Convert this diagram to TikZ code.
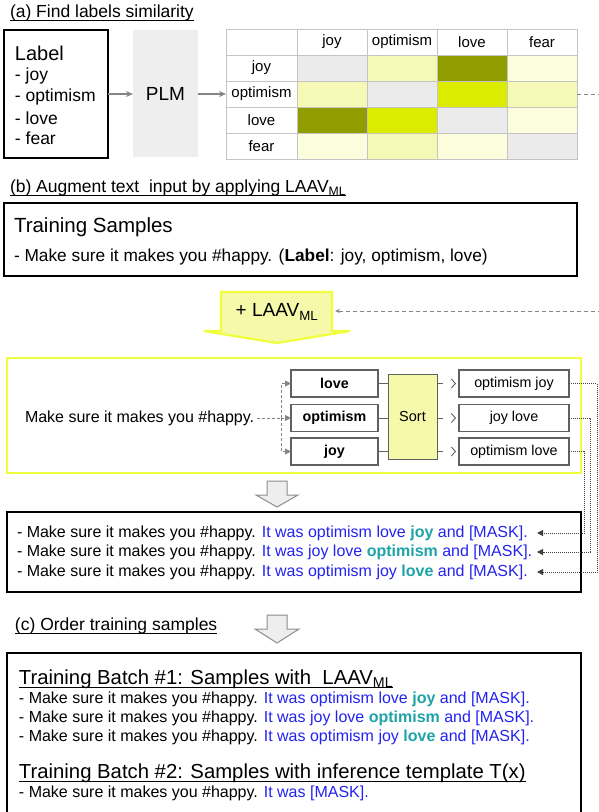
\documentclass[tikz,border=0pt]{standalone}
\usepackage{fontspec}
\setmainfont{Liberation Sans}
\usetikzlibrary{arrows.meta}

\definecolor{plmgray}{HTML}{EEEEEE}
\definecolor{gridgray}{HTML}{C4C4C4}
\definecolor{simhigh}{HTML}{909C00}
\definecolor{simmid}{HTML}{DCEC00}
\definecolor{simlow}{HTML}{F6F9B6}
\definecolor{simmin}{HTML}{FCFDDC}
\definecolor{simself}{HTML}{EBEBEB}
\definecolor{hiyellow}{HTML}{F0FF3C}
\definecolor{paleyellow}{HTML}{F6F9AA}
\definecolor{tmplblue}{HTML}{2323F0}
\definecolor{labteal}{HTML}{1FA3A8}
\definecolor{linkgray}{HTML}{858585}
\definecolor{boxgray}{HTML}{606060}
\definecolor{arrowgray}{HTML}{8C8C8C}

\newcommand{\setfs}[1]{\fontsize{#1}{#1}\selectfont}
\newcommand{\tmpl}[1]{\textcolor{tmplblue}{#1}}
\newcommand{\keylab}[1]{\textcolor{labteal}{\textbf{#1}}}

\begin{document}
\begin{tikzpicture}[x=1pt,y=-1pt,
  every node/.style={inner sep=0pt, outer sep=0pt},
  title/.style={anchor=west, font=\setfs{17.5}},
  batchtitle/.style={anchor=west, font=\setfs{20.3}},
  txt/.style={anchor=west, font=\setfs{16}},
  smalltxt/.style={anchor=west, font=\setfs{16}},
  frame/.style={draw=black, line width=1.2pt},
  cell/.style={draw=gridgray, line width=1pt, minimum width=70pt, minimum height=26pt, font=\setfs{15}},
  flow/.style={draw=linkgray, line width=1.2pt, -{Stealth[length=7pt,width=6pt]}},
  simlink/.style={draw=linkgray, line width=1pt, dash pattern=on 4pt off 3pt, -{Stealth[length=5pt,width=4pt]}},
  forklink/.style={draw=linkgray, line width=0.9pt, dash pattern=on 3pt off 2pt, -{Triangle[length=6pt,width=6pt]}},
  tagbox/.style={draw=boxgray, line width=1.2pt, fill=white, minimum height=27pt, font=\setfs{14.3}},
  sortlink/.style={draw=boxgray, line width=0.9pt, dash pattern=on 6pt off 30pt, -{Straight Barb[length=4pt,width=9pt]}, shorten >=3pt},
  dotlink/.style={draw=black!75, line width=1pt, densely dotted, -{Triangle[length=6pt,width=6pt]}},
  bigarrow/.style={draw=arrowgray, fill=plmgray, line width=1pt},
  ul/.style={line width=0.8pt}
]
\useasboundingbox (0,0) rectangle (599,812);

% ---------------- (a) label similarity ----------------
\node[title] (ta) at (10,13) {(a) Find labels similarity};
\draw[ul] ([yshift=-3pt]ta.base west) -- ([yshift=-3pt]ta.base east);

\node[frame, minimum width=104pt, minimum height=128pt] (labels) at (56,94) {};
\node[anchor=west, font=\setfs{20}] (labhead) at (15,53) {Label};
\foreach \t/\yy in {joy/76, optimism/97, love/118, fear/138}
  \node[anchor=west, font=\setfs{17.5}] (lab-\t) at (15,\yy) {- \t};

\node[fill=plmgray, minimum width=65pt, minimum height=127pt, font=\setfs{19}] (plm) at (165.5,93.5) {PLM};

% similarity table
\node[cell, minimum width=71pt] (corner) at (261.5,42) {};
\foreach \t [count=\j] in {joy,optimism,love,fear}
  \node[cell] (h-\j) at ({297+70*(\j-0.5)},42) {\t};
\foreach \t [count=\i] in {joy,optimism,love,fear}
  \node[cell, minimum width=71pt] (r-\i) at (261.5,{42+26*\i}) {\t};
\foreach \col [count=\j] in {simself,simlow,simhigh,simmin}
  \node[cell, fill=\col] (c-1-\j) at ({297+70*(\j-0.5)},68) {};
\foreach \col [count=\j] in {simlow,simself,simmid,simlow}
  \node[cell, fill=\col] (c-2-\j) at ({297+70*(\j-0.5)},94) {};
\foreach \col [count=\j] in {simhigh,simmid,simself,simmin}
  \node[cell, fill=\col] (c-3-\j) at ({297+70*(\j-0.5)},120) {};
\foreach \col [count=\j] in {simmin,simlow,simmin,simself}
  \node[cell, fill=\col] (c-4-\j) at ({297+70*(\j-0.5)},146) {};

\draw[flow] (labels.east) -- (labels.east -| plm.west);
\draw[flow] (plm.east |- r-2) -- (r-2.west);

% ---------------- (b) augmentation ----------------
\node[title] (tb) at (10,188) {(b) Augment text\ \ input by applying LAAV\textsubscript{ML}};
\draw[ul] ([yshift=-3pt]tb.base west) -- ([yshift=-3pt]tb.base east);

\node[frame, minimum width=573pt, minimum height=73pt] (train) at (290.5,239.5) {};
\node[anchor=west, font=\setfs{20.5}] (trainhead) at (14,227) {Training Samples};
\node[anchor=west, font=\setfs{17.3}] (trainline) at (14,257) {- Make sure it makes you \#happy. (\textbf{Label}: joy, optimism, love)};

% LAAV arrow
\filldraw[draw=hiyellow, fill=paleyellow, line width=2.2pt, line join=miter]
  (221,292) -- (332,292) -- (332,331) -- (350,331) -- (277,343) -- (204,331) -- (221,331) -- cycle;
\node[font=\setfs{19}] (laav) at (277,312) {+ LAAV\textsubscript{ML}};
\coordinate (laavR) at (335,311);
\draw[simlink] (c-2-4.east) -- ++(30,0) |- (laavR);

% augmentation box
\node[draw=hiyellow, line width=2.5pt, minimum width=574pt, minimum height=115pt] (aug) at (294,415.5) {};
\node[txt] (sample) at (25,418) {Make sure it makes you \#happy.};

\node[tagbox, minimum width=87pt] (t-love) at (334.5,383.5) {\textbf{love}};
\node[tagbox, minimum width=87pt] (t-opt) at (334.5,418) {\textbf{optimism}};
\node[tagbox, minimum width=87pt] (t-joy) at (334.5,451.5) {\textbf{joy}};

\node[draw=boxgray, line width=1pt, fill=paleyellow, minimum width=49pt, minimum height=85pt, font=\setfs{14.5}] (sort) at (412.5,416.5) {Sort};

\node[tagbox, minimum width=110pt] (o-1) at (514,383.5) {optimism joy};
\node[tagbox, minimum width=110pt] (o-2) at (514,418) {joy love};
\node[tagbox, minimum width=110pt] (o-3) at (514,451.5) {optimism love};

\draw[forklink, -] (sample.east) ++(3,0) -- (281,418) coordinate (fork);
\draw[forklink] (fork) -- (t-opt.west);
\draw[forklink] (fork) |- (t-love.west);
\draw[forklink] (fork) |- (t-joy.west);

\foreach \n in {love,opt,joy}
  \draw[draw=boxgray, line width=0.9pt] (t-\n.east) -- (t-\n.east -| sort.west);
\foreach \n in {1,2,3}
  \draw[sortlink] (sort.east |- o-\n.west) -- (o-\n.west);

% down arrow
\filldraw[bigarrow] (267,481) -- (287,481) -- (287,495) -- (298,495) -- (277,507) -- (256,495) -- (267,495) -- cycle;

% augmented samples
\node[frame, minimum width=574pt, minimum height=80pt] (res) at (294,552) {};
\node[txt] (s-1) at (17,533) {- Make sure it makes you \#happy. \tmpl{It was optimism love \keylab{joy} and [MASK].}};
\node[txt] (s-2) at (17,552) {- Make sure it makes you \#happy. \tmpl{It was joy love \keylab{optimism} and [MASK].}};
\node[txt] (s-3) at (17,572) {- Make sure it makes you \#happy. \tmpl{It was optimism joy \keylab{love} and [MASK].}};
\coordinate (in-1) at (537,533);
\coordinate (in-2) at (537,552);
\coordinate (in-3) at (537,572);

\draw[dotlink] (o-1.east) -- ++(28,0) |- (in-3);
\draw[dotlink] (o-2.east) -- ++(21,0) |- (in-2);
\draw[dotlink] (o-3.east) -- ++(15,0) |- (in-1);

% ---------------- (c) ordering ----------------
\node[title] (tc) at (15,626) {(c) Order training samples};
\draw[ul] ([yshift=-3pt]tc.base west) -- ([yshift=-3pt]tc.base east);

\filldraw[bigarrow] (267,615) -- (287,615) -- (287,629) -- (299,629) -- (277,643) -- (255,629) -- (267,629) -- cycle;

\node[frame, minimum width=574pt, minimum height=170pt] (batch) at (294,738) {};
\node[batchtitle] (b1) at (19,679) {Training Batch \#1: Samples with\ \ LAAV\textsubscript{ML}};
\draw[ul] ([yshift=-3.5pt]b1.base west) -- ([yshift=-3.5pt]b1.base east);
\node[smalltxt] (b1-1) at (19,699) {- Make sure it makes you \#happy. \tmpl{It was optimism love \keylab{joy} and [MASK].}};
\node[smalltxt] (b1-2) at (19,718) {- Make sure it makes you \#happy. \tmpl{It was joy love \keylab{optimism} and [MASK].}};
\node[smalltxt] (b1-3) at (19,737) {- Make sure it makes you \#happy. \tmpl{It was optimism joy \keylab{love} and [MASK].}};
\node[batchtitle] (b2) at (19,773) {Training Batch \#2: Samples with inference template T(x)};
\draw[ul] ([yshift=-3.5pt]b2.base west) -- ([yshift=-3.5pt]b2.base east);
\node[smalltxt] (b2-1) at (19,793) {- Make sure it makes you \#happy. \tmpl{It was [MASK].}};
\end{tikzpicture}
\end{document}
